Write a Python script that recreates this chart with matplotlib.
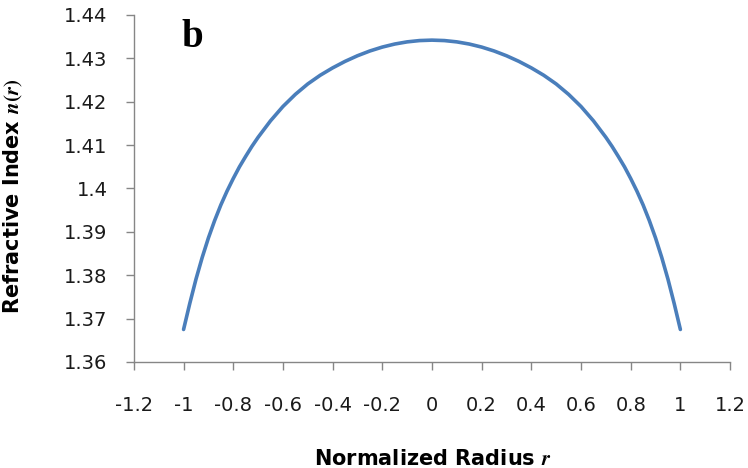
import numpy as np
import matplotlib
matplotlib.use("Agg")
import matplotlib.pyplot as plt

# values (symmetric about r = 0)
r_half = [0.00, 0.05, 0.10, 0.15, 0.20, 0.25, 0.30, 0.35, 0.40, 0.45, 0.50,
          0.55, 0.60, 0.65, 0.70, 0.725, 0.75, 0.775, 0.80, 0.825, 0.85,
          0.875, 0.90, 0.925, 0.95, 0.975, 1.00]
n_half = [1.4342, 1.4341, 1.4338, 1.4333, 1.4326, 1.4317, 1.4306, 1.4293,
          1.4278, 1.4261, 1.4241, 1.4217, 1.4189, 1.4156, 1.4118, 1.4097,
          1.4074, 1.4050, 1.4023, 1.3994, 1.3962, 1.3926, 1.3886, 1.3841,
          1.3791, 1.3735, 1.3675]

x_ticks = [-1.2, -1, -0.8, -0.6, -0.4, -0.2, 0, 0.2, 0.4, 0.6, 0.8, 1, 1.2]
x_labels = ["-1.2", "-1", "-0.8", "-0.6", "-0.4", "-0.2", "0", "0.2", "0.4",
            "0.6", "0.8", "1", "1.2"]
y_ticks = [1.36, 1.37, 1.38, 1.39, 1.40, 1.41, 1.42, 1.43, 1.44]
y_labels = ["1.36", "1.37", "1.38", "1.39", "1.4", "1.41", "1.42", "1.43", "1.44"]

r = np.concatenate([-np.array(r_half[::-1]), np.array(r_half[1:])])
n = np.concatenate([np.array(n_half[::-1]), np.array(n_half[1:])])

plt.rcParams["font.family"] = ["DejaVu Sans"]
plt.rcParams["mathtext.fontset"] = "stix"

fig = plt.figure(figsize=(7.48, 4.68), dpi=100)
ax = fig.add_axes([0.179, 0.2265, 0.797, 0.7415])

ax.plot(r, n, color="#4a7ebb", linewidth=2.6,
        solid_capstyle="round", solid_joinstyle="round")

ax.set_xlim(-1.2, 1.2)
ax.set_ylim(1.36, 1.44)
ax.set_xticks(x_ticks)
ax.set_xticklabels(x_labels)
ax.set_yticks(y_ticks)
ax.set_yticklabels(y_labels)

for side in ("top", "right"):
    ax.spines[side].set_visible(False)
for side in ("left", "bottom"):
    ax.spines[side].set_color("#868686")
    ax.spines[side].set_linewidth(1.0)
ax.tick_params(axis="both", direction="out", length=6, width=1.0,
               color="#868686", labelsize=14, labelcolor="#1a1a1a")
ax.tick_params(axis="x", pad=18.5)
ax.tick_params(axis="y", pad=13)

ax.set_xlabel(r"Normalized Radius $\boldsymbol{r}$", fontsize=15,
              fontweight="bold")
ax.set_ylabel(r"Refractive Index $\boldsymbol{n(r)}$", fontsize=15,
              fontweight="bold")
ax.xaxis.set_label_coords(0.502, -0.25)
ax.yaxis.set_label_coords(-0.183, 0.478)

ax.text(-1.007, 1.4326, "b", fontsize=28, fontweight="bold",
        family="Liberation Serif", ha="left", va="baseline")

fig.savefig("out.png", dpi=100)
